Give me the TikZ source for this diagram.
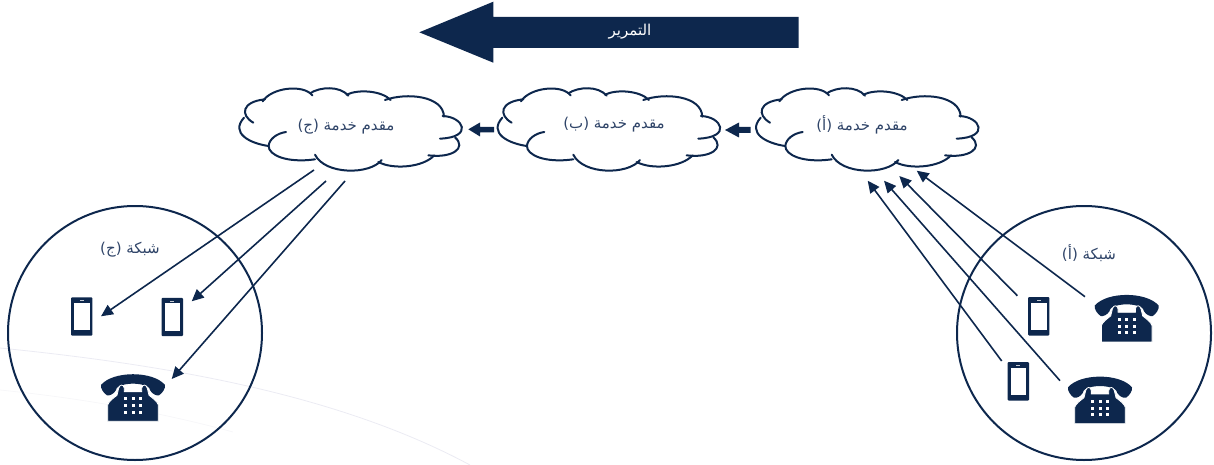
\documentclass[tikz,border=0pt]{standalone}
\usepackage{fontspec}
\newfontfamily\arabicfont[Script=Arabic]{DejaVu Sans}
\TeXXeTstate=1
\usetikzlibrary{arrows.meta}
\definecolor{navy}{HTML}{0D274D}
\definecolor{labelblue}{HTML}{2F4468}
\definecolor{faintA}{HTML}{EBEBF3}
\definecolor{faintB}{HTML}{F7F7F9}
\tikzset{
  link/.style={navy,line width=1.6pt,-{Triangle[length=12pt,width=11pt]}},
  ring/.style={draw=navy,line width=2pt},
  lbl/.style={text=labelblue,font=\arabicfont\fontsize{15}{17}\selectfont,inner sep=0pt},
  cloudline/.style={draw=navy,line width=2pt,line cap=round},
  cloudshape/.pic={
    \begin{scope}[x=0.3333pt,y=-0.3333pt]
      \draw[cloudline] (115,198) .. controls (60,190) and (0,160) .. (42,113);
      \draw[cloudline] (70,128) .. controls (30,105) and (35,65) .. (105,58);
      \draw[cloudline] (98,64) .. controls (125,22) and (220,12) .. (247,46);
      \draw[cloudline] (240,40) .. controls (270,20) and (330,17) .. (355,47);
      \draw[cloudline] (350,44) .. controls (385,27) and (455,32) .. (482,60);
      \draw[cloudline] (465,60) .. controls (530,37) and (640,47) .. (642,110);
      \draw[cloudline] (638,108) .. controls (700,110) and (732,172) .. (630,176);
      \draw[cloudline] (675,172) .. controls (712,205) and (665,235) .. (595,226);
      \draw[cloudline] (613,226) .. controls (580,262) and (490,270) .. (445,246);
      \draw[cloudline] (455,240) .. controls (420,285) and (285,285) .. (255,224);
      \draw[cloudline] (255,238) .. controls (170,250) and (115,225) .. (116,198) .. controls (117,178) and (140,160) .. (168,156);
    \end{scope}
  },
  mobile/.pic={
    \fill[navy,rounded corners=1pt] (-10.7,-19.2) rectangle (10.7,19.2);
    \fill[white] (-7.8,-13.8) rectangle (7.8,13.6);
    \fill[white!75!navy] (-2,-16.3) rectangle (2,-15.5);
  },
  deskphone/.pic={
    \begin{scope}[x=0.3333pt,y=-0.3333pt]
      \fill[navy] (-96,35) .. controls (-60,-8) and (60,-8) .. (96,35)
        .. controls (98,45) and (88,60) .. (78,66)
        .. controls (70,68) and (58,62) .. (52,52)
        .. controls (50,46) and (48,42) .. (44,40)
        .. controls (20,28) and (-20,28) .. (-44,40)
        .. controls (-48,42) and (-50,46) .. (-52,52)
        .. controls (-58,62) and (-70,68) .. (-78,66)
        .. controls (-88,60) and (-98,45) .. cycle;
      \filldraw[navy,draw=white,line width=0.8pt] (-76,144) -- (-76,95) .. controls (-73,85) and (-60,75) .. (-48,66)
        -- (-43,45) .. controls (-40,32) and (-28,32) .. (-26,45) -- (-26,55)
        -- (26,55) -- (26,45) .. controls (28,32) and (40,32) .. (43,45)
        -- (48,66) .. controls (60,75) and (73,85) .. (76,95) -- (76,144) -- cycle;
      \foreach \kx in {-22,0,22} \foreach \ky in {77,97,117}
        \fill[white] (\kx-4.5,\ky-4.5) rectangle (\kx+4.5,\ky+4.5);
    \end{scope}
  }
}
\begin{document}
\begin{tikzpicture}[x=1pt,y=-1pt]
\useasboundingbox (0,0) rectangle (1214,465);
% faint background curves
\draw[faintA,line width=0.8pt] (0,348) .. controls (170,365) and (340,395) .. (470,465);
\draw[faintB,line width=0.8pt] (0,390) .. controls (80,398) and (160,412) .. (233,432);
% scroll arrow
\fill[navy] (419.3,32.3) -- (493.3,1.7) -- (493.3,17) -- (798.7,17) -- (798.7,48) -- (493.3,48) -- (493.3,62.7) -- cycle;
\node[lbl,text=white] (scroll) at (630,31.5) {\beginR التمرير\endR};
% clouds
\pic at (230,80) {cloudshape};
\pic at (488.3,80) {cloudshape};
\pic at (746.7,80) {cloudshape};
\node[lbl] (provC) at (346,126.5) {\beginR مقدم خدمة (ج)\endR};
\node[lbl] (provB) at (614,125) {\beginR مقدم خدمة (ب)\endR};
\node[lbl] (provA) at (862,125) {\beginR مقدم خدمة (أ)\endR};
% block arrows between clouds
\fill[navy] (468.3,129.3) -- (480,122.5) -- (480,127) -- (494,127) -- (494,132.5) -- (480,132.5) -- (480,136.5) -- cycle;
\fill[navy] (725,130) -- (739,122.5) -- (739,127) -- (750.7,127) -- (750.7,133) -- (739,133) -- (739,137.5) -- cycle;
% network circles
\node[ring,circle,minimum size=254pt,inner sep=0pt] (netC) at (135,333) {};
\node[ring,circle,minimum size=254pt,inner sep=0pt] (netA) at (1084,333) {};
\node[lbl] (netClbl) at (130,250) {\beginR شبكة (ج)\endR};
\node[lbl] (netAlbl) at (1089,253) {\beginR شبكة (أ)\endR};
% devices
\pic at (81.7,316.5) {mobile};
\pic at (172.3,317) {mobile};
\pic at (1038.7,316.3) {mobile};
\pic at (1018.3,381.3) {mobile};
\pic at (133,373.3) {deskphone};
\pic at (1126.7,294) {deskphone};
\pic at (1100,375.7) {deskphone};
% connector ends
\coordinate (c1) at (314,170); \coordinate (c1t) at (101,316.3);
\coordinate (c2) at (326,181); \coordinate (c2t) at (191.7,301.3);
\coordinate (c3) at (345,181); \coordinate (c3t) at (171.7,379);
\coordinate (a1) at (1085,296.7); \coordinate (a1t) at (916.7,170.7);
\coordinate (a2) at (1017.3,295.7); \coordinate (a2t) at (899.3,176);
\coordinate (a3) at (1060,380.7); \coordinate (a3t) at (884,180.7);
\coordinate (a4) at (1001.7,361); \coordinate (a4t) at (867.7,180.7);
\foreach \s/\t in {c1/c1t,c2/c2t,c3/c3t,a1/a1t,a2/a2t,a3/a3t,a4/a4t}
  \draw[link] (\s) -- (\t);
\end{tikzpicture}
\end{document}
